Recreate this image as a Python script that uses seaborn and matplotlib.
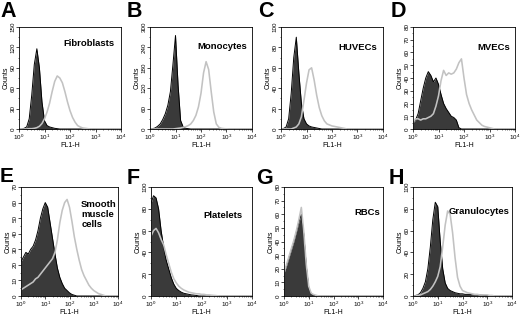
import numpy as np
import pandas as pd
import matplotlib
matplotlib.use("Agg")
import matplotlib.pyplot as plt
import seaborn as sns
from matplotlib.ticker import MultipleLocator, LogLocator, NullFormatter

sns.set_theme(style="ticks")
plt.rcParams["font.family"] = ["Liberation Sans", "DejaVu Sans"]
plt.rcParams["mathtext.default"] = "regular"
plt.rcParams["text.color"] = "black"
plt.rcParams["axes.labelcolor"] = "black"
plt.rcParams["xtick.color"] = "black"
plt.rcParams["ytick.color"] = "black"

# FL1-H channel positions (log10 decades)
LOG_FL1 = [0.0, 0.1, 0.2, 0.3, 0.4, 0.5, 0.6, 0.7, 0.8, 0.9,
           1.0, 1.1, 1.2, 1.3, 1.4, 1.5, 1.6, 1.7, 1.8, 1.9,
           2.0, 2.1, 2.2, 2.3, 2.4, 2.5, 2.6, 2.7, 2.8, 2.9,
           3.0, 3.1, 3.2, 3.3, 3.4, 3.5, 3.6, 3.7, 3.8, 3.9, 4.0]

panel_letters = ["A", "B", "C", "D", "E", "F", "G", "H"]
cell_types = ["Fibroblasts", "Monocytes", "HUVECs", "MVECs",
              "Smooth\nmuscle\ncells", "Platelets", "RBCs", "Granulocytes"]
y_max = [150, 300, 100, 80, 70, 100, 80, 100]
y_step = [30, 60, 20, 10, 10, 20, 10, 20]

# control (dark filled) histograms, one value per LOG_FL1 position
A_dark = [0, 0, 1, 3, 15, 50, 95, 118, 90, 40,
          12, 5, 3, 2, 1, 0.5, 0, 0, 0, 0,
          0, 0, 0, 0, 0, 0, 0, 0, 0, 0,
          0, 0, 0, 0, 0, 0, 0, 0, 0, 0, 0]
B_dark = [0, 1, 3, 8, 15, 28, 45, 70, 110, 190,
          275, 130, 25, 6, 2, 1, 0, 0, 0, 0,
          0, 0, 0, 0, 0, 0, 0, 0, 0, 0,
          0, 0, 0, 0, 0, 0, 0, 0, 0, 0, 0]
C_dark = [0, 0.5, 2, 10, 35, 70, 90, 55, 25, 10,
          5, 3, 2, 1.5, 1, 0.5, 0, 0, 0, 0,
          0, 0, 0, 0, 0, 0, 0, 0, 0, 0,
          0, 0, 0, 0, 0, 0, 0, 0, 0, 0, 0]
D_dark = [5, 7, 12, 22, 32, 40, 45, 42, 37, 40,
          35, 27, 20, 16, 13, 10, 9, 7, 1, 0,
          0, 0, 0, 0, 0, 0, 0, 0, 0, 0,
          0, 0, 0, 0, 0, 0, 0, 0, 0, 0, 0]
E_dark = [22, 25, 28, 27, 30, 32, 36, 42, 50, 56,
          60, 57, 47, 37, 27, 18, 12, 8, 5, 3.5,
          2, 1, 0.5, 0, 0, 0, 0, 0, 0, 0,
          0, 0, 0, 0, 0, 0, 0, 0, 0, 0, 0]
F_dark = [85, 92, 90, 80, 60, 45, 33, 25, 17, 11,
          7, 5, 3.5, 2.5, 2, 1.5, 1, 0.8, 0.5, 0,
          0, 0, 0, 0, 0, 0, 0, 0, 0, 0,
          0, 0, 0, 0, 0, 0, 0, 0, 0, 0, 0]
G_dark = [17, 22, 28, 34, 40, 47, 54, 60, 45, 22,
          6, 1.5, 0.5, 0, 0, 0, 0, 0, 0, 0,
          0, 0, 0, 0, 0, 0, 0, 0, 0, 0,
          0, 0, 0, 0, 0, 0, 0, 0, 0, 0, 0]
H_dark = [0, 0.5, 1, 3, 7, 13, 25, 45, 70, 86,
          82, 50, 25, 12, 7, 5, 4, 3, 2.5, 2,
          2, 1.5, 1.5, 1.5, 1, 1, 1, 1, 0.8, 0.5,
          0.5, 0, 0, 0, 0, 0, 0, 0, 0, 0, 0]

# stained (light outline) histograms
A_light = [0, 0, 0, 0, 0.5, 0.5, 1, 2, 4, 8,
           15, 25, 38, 55, 70, 78, 75, 68, 55, 40,
           27, 17, 10, 5, 3, 1.5, 1, 0.5, 0, 0,
           0, 0, 0, 0, 0, 0, 0, 0, 0, 0, 0]
B_light = [0, 0, 0, 0, 0, 0, 0, 0, 0, 0,
           1, 2, 3, 5, 7, 10, 15, 25, 40, 65,
           105, 165, 198, 175, 110, 50, 15, 5, 2, 1,
           0.5, 0, 0, 0, 0, 0, 0, 0, 0, 0, 0]
C_light = [0, 0, 0, 0, 0, 1, 2, 5, 12, 28,
           45, 58, 60, 48, 33, 21, 13, 8, 5, 4,
           3, 2.5, 2, 1.5, 1, 0.5, 0, 0, 0, 0,
           0, 0, 0, 0, 0, 0, 0, 0, 0, 0, 0]
D_light = [5, 8, 8, 7, 8, 8, 9, 10, 12, 18,
           26, 38, 46, 42, 44, 43, 44, 47, 52, 55,
           40, 27, 20, 15, 11, 7, 5, 3, 2, 1.5,
           1, 0.5, 0, 0, 0, 0, 0, 0, 0, 0, 0]
E_light = [4, 5, 6, 7, 8, 9, 11, 12, 14, 16,
           18, 20, 22, 24, 28, 36, 47, 55, 60, 62,
           57, 48, 38, 30, 23, 17, 13, 10, 7, 5,
           3.5, 2.5, 1.5, 1, 0.5, 0, 0, 0, 0, 0, 0]
F_light = [55, 60, 62, 58, 52, 47, 38, 30, 22, 16,
           12, 9, 7, 5.5, 4.5, 3.5, 3, 2.5, 2, 2,
           1.5, 1.5, 1, 1, 0.7, 0.5, 0.3, 0, 0, 0,
           0, 0, 0, 0, 0, 0, 0, 0, 0, 0, 0]
G_light = [17, 23, 29, 35, 41, 48, 56, 65, 47, 23,
           7, 2, 1, 0.5, 0, 0, 0, 0, 0, 0,
           0, 0, 0, 0, 0, 0, 0, 0, 0, 0,
           0, 0, 0, 0, 0, 0, 0, 0, 0, 0, 0]
H_light = [0, 0, 0.5, 1, 2, 3, 4, 6, 9, 13,
           18, 27, 45, 65, 78, 75, 58, 35, 17, 9,
           5, 4, 3, 2.5, 2, 1.5, 1.5, 1, 1, 1,
           1, 0.5, 0.5, 0, 0, 0, 0, 0, 0, 0, 0]

dark_series = [A_dark, B_dark, C_dark, D_dark, E_dark, F_dark, G_dark, H_dark]
light_series = [A_light, B_light, C_light, D_light, E_light, F_light, G_light, H_light]

fl1 = 10 ** np.asarray(LOG_FL1)

# layout (pixels): left, right, top, bottom
W, H = 520, 317
boxes = [(19, 121, 27, 129), (150, 252, 27, 129), (281, 383, 27, 129), (413, 515, 27, 129),
         (21, 118, 187, 296), (151, 252, 187, 296), (284, 383, 187, 296), (413, 512, 187, 296)]
letter_pos = [(0, 1), (127, 1), (258, 1), (391, 1), (0, 167), (127, 168), (256, 168), (389, 168)]
letter_size = [15.5, 15.5, 15.5, 15.5, 15, 15.5, 15.5, 15.5]
title_pos = [(0.94, 0.88, "right"), (0.95, 0.85, "right"), (0.94, 0.84, "right"),
             (0.95, 0.84, "right"), (0.62, 0.885, "left"), (0.91, 0.78, "right"),
             (0.97, 0.81, "right"), (0.97, 0.82, "right")]

DARK = "#3a3a3a"
LIGHT = "#c2c2c2"

fig = plt.figure(figsize=(W / 100, H / 100), dpi=100)
fig.patch.set_facecolor("white")

for i in range(8):
    l, r, t, b = boxes[i]
    ax = fig.add_axes([l / W, 1 - b / H, (r - l) / W, (b - t) / H])
    df = pd.DataFrame({"FL1-H": fl1, "control": dark_series[i], "stained": light_series[i]})
    ax.fill_between(df["FL1-H"], df["control"], color=DARK, lw=0)
    sns.lineplot(data=df, x="FL1-H", y="control", ax=ax, color="black", lw=0.7,
                 estimator=None, sort=False)
    sns.lineplot(data=df, x="FL1-H", y="stained", ax=ax, color=LIGHT, lw=1.15,
                 estimator=None, sort=False)
    ax.set_xscale("log")
    ax.set_xlim(1, 1e4)
    ax.set_ylim(0, y_max[i])
    ax.set_xticks([1, 10, 100, 1000, 10000])
    ax.xaxis.set_minor_locator(LogLocator(base=10, subs=np.arange(2, 10), numticks=20))
    ax.xaxis.set_minor_formatter(NullFormatter())
    ax.yaxis.set_major_locator(MultipleLocator(y_step[i]))
    ax.yaxis.set_minor_locator(MultipleLocator(y_step[i] / 2))
    ax.tick_params(which="major", direction="out", length=2, width=0.5, labelsize=4.5,
                   pad=0.5)
    ax.tick_params(which="minor", direction="out", length=1, width=0.4)
    for lab in ax.get_yticklabels():
        lab.set_rotation(90)
        lab.set_va("center")
    ax.set_xlabel("FL1-H", fontsize=5, labelpad=0)
    ax.set_ylabel("Counts", fontsize=5, labelpad=0.5)
    for sp in ax.spines.values():
        sp.set_color("black")
        sp.set_linewidth(0.6)
    tx, ty, ha = title_pos[i]
    ax.text(tx, ty, cell_types[i], transform=ax.transAxes, ha=ha, va="top",
            fontsize=6.8, fontweight="bold", linespacing=1.15)
    lx, ly = letter_pos[i]
    fig.text(lx / W, 1 - ly / H, panel_letters[i], ha="left", va="top",
             fontsize=letter_size[i], fontweight="bold")

fig.savefig("out.png", dpi=100, facecolor="white")
